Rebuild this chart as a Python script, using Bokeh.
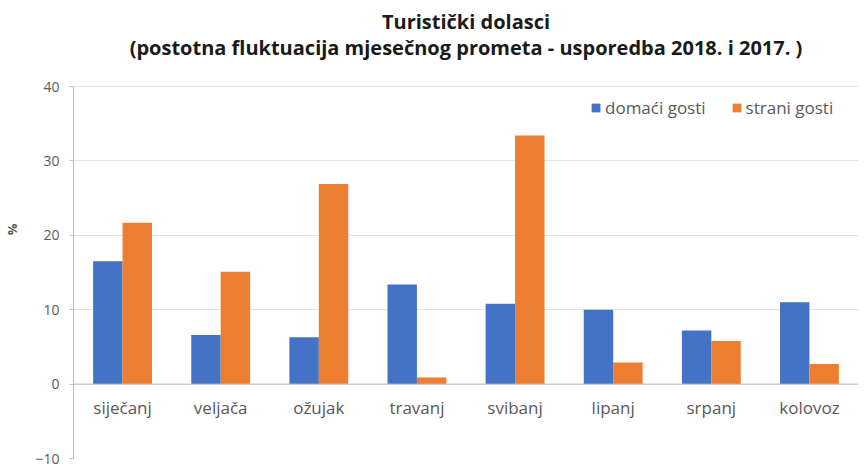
from bokeh.plotting import figure
from bokeh.models import ColumnDataSource, FactorRange, Legend, LegendItem, Range1d, Span
from bokeh.transform import dodge
from bokeh.core.properties import value
from bokeh.embed import file_html
from bokeh.resources import INLINE

months = ["siječanj", "veljača", "ožujak", "travanj", "svibanj", "lipanj", "srpanj", "kolovoz"]
domaci = [16.5, 6.6, 6.3, 13.4, 10.8, 10.0, 7.2, 11.0]
strani = [21.7, 15.1, 26.9, 0.9, 33.4, 2.9, 5.8, 2.7]
series_names = ["domaći gosti", "strani gosti"]
title_lines = ["Turistički dolasci",
               "(postotna fluktuacija mjesečnog prometa - usporedba 2018. i 2017. )"]
y_ticks = [-10, 0, 10, 20, 30, 40]
label_y = [-3.1] * len(months)

src = ColumnDataSource(dict(month=months, domaci=domaci, strani=strani, ly=label_y))

FONT = "Open Sans"
GREY_TXT = "#595959"

# frame spans the whole height; the value axis is bounded to -10..40,
# the space above 40 holds the two centred title lines
p = figure(width=867, height=466, x_range=FactorRange(*months, range_padding=0),
           y_range=Range1d(-10, 51.56), output_backend="svg", toolbar_location=None,
           min_border_left=72, min_border_right=9, min_border_top=0, min_border_bottom=8)
p.outline_line_color = None
p.title = None

b1 = p.vbar(x=dodge("month", -0.15, range=p.x_range), top="domaci", width=0.3,
            source=src, color="#4472C4", line_color=None)
b2 = p.vbar(x=dodge("month", 0.15, range=p.x_range), top="strani", width=0.3,
            source=src, color="#ED7D31", line_color=None)

p.text(x="month", y="ly", text="month", source=src, text_align="center",
       text_baseline="middle", text_font=value(FONT), text_font_size="17px",
       text_color=GREY_TXT)

tsrc = ColumnDataSource(dict(x=[4.0, 4.0], y=[48.74, 45.24], t=title_lines))
p.text(x="x", y="y", text="t", source=tsrc, text_align="center",
       text_baseline="middle", text_font=value(FONT), text_font_size="20px",
       text_font_style="bold", text_color="#1a1a1a")

p.add_layout(Span(location=0, dimension="width", line_color="#bfbfbf", line_width=1))

p.xaxis.visible = False
p.xgrid.visible = False
p.ygrid.grid_line_color = "#e3e3e3"
p.yaxis.ticker = y_ticks
p.yaxis.bounds = (-10, 40)
p.yaxis.axis_line_color = "#bfbfbf"
p.yaxis.major_tick_line_color = "#bfbfbf"
p.yaxis.major_tick_out = 4
p.yaxis.major_tick_in = 0
p.yaxis.minor_tick_line_color = None
p.yaxis.major_label_standoff = 10
p.yaxis.major_label_text_font = FONT
p.yaxis.major_label_text_font_size = "14px"
p.yaxis.major_label_text_color = GREY_TXT
p.yaxis.axis_label = "%"
p.yaxis.axis_label_text_font = FONT
p.yaxis.axis_label_text_font_size = "13px"
p.yaxis.axis_label_text_font_style = "bold"
p.yaxis.axis_label_text_color = GREY_TXT
p.yaxis.axis_label_standoff = 11

legend = Legend(items=[LegendItem(label=series_names[0], renderers=[b1]),
                       LegendItem(label=series_names[1], renderers=[b2])],
                orientation="horizontal", location=(517, 339),
                border_line_color=None, background_fill_alpha=0,
                glyph_width=11, glyph_height=11, label_standoff=4, spacing=25,
                padding=5, margin=0,
                label_text_font=FONT, label_text_font_size="17px",
                label_text_color=GREY_TXT)
p.add_layout(legend)

open("out.html", "w").write(file_html(p, INLINE))
